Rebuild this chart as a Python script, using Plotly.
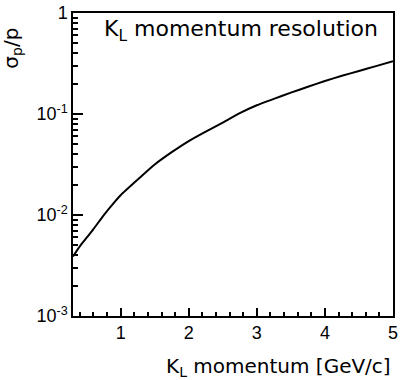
import plotly.graph_objects as go

momentum = [0.3, 0.4, 0.5, 0.6, 0.75, 0.9, 1.0, 1.25, 1.5, 1.75, 2.0, 2.25, 2.5,
            2.75, 3.0, 3.25, 3.5, 3.75, 4.0, 4.25, 4.5, 4.75, 5.0]
resolution = [0.00389, 0.0049, 0.00596, 0.00724, 0.00993, 0.0132, 0.0157, 0.0224,
              0.0316, 0.0419, 0.054, 0.067, 0.0822, 0.102, 0.122, 0.141, 0.1626,
              0.186, 0.212, 0.239, 0.267, 0.298, 0.333]

y_tickvals = [0.001, 0.01, 0.1, 1]
y_ticktext = ["10<sup>-3</sup>", "10<sup>-2</sup>", "10<sup>-1</sup>", "1"]
x_tickvals = [1, 2, 3, 4, 5]

X_RANGE = [0.3, 5.0]
FONT = "DejaVu Sans, Liberation Sans, Arial, sans-serif"
TICKFONT = "Liberation Sans"

fig = go.Figure()
fig.add_trace(go.Scatter(
    x=momentum, y=resolution, mode="lines",
    line=dict(color="black", width=2, shape="spline", smoothing=0.6),
    showlegend=False, hoverinfo="skip",
))

fig.update_layout(
    width=401, height=380,
    margin=dict(l=73, r=3, t=9, b=64),
    paper_bgcolor="white", plot_bgcolor="white",
    font=dict(family=FONT, size=16, color="black"),
)
fig.update_xaxes(
    range=X_RANGE, tickmode="array", tickvals=x_tickvals,
    ticktext=[str(v) for v in x_tickvals],
    ticks="inside", ticklen=8, tickwidth=1.5, tickcolor="black",
    minor=dict(ticks="inside", ticklen=4, tickmode="linear", tick0=0, dtick=0.2,
               tickcolor="black", tickwidth=1.5),
    showline=True, linecolor="black", linewidth=1.5, mirror=True,
    showgrid=False, zeroline=False, ticklabeloverflow="allow",
    tickfont=dict(size=18, family=TICKFONT),
)
fig.update_yaxes(
    type="log", range=[-3, 0], tickmode="array", tickvals=y_tickvals, ticktext=y_ticktext,
    ticks="inside", ticklen=10, tickwidth=1.5, tickcolor="black",
    minor=dict(ticks="inside", ticklen=5, dtick="D1", tickcolor="black", tickwidth=1.5),
    showline=True, linecolor="black", linewidth=1.5, mirror=True,
    showgrid=False, zeroline=False, ticklabeloverflow="allow",
    tickfont=dict(size=18, family=TICKFONT),
)

fig.add_annotation(
    text="K<sub>L</sub> momentum resolution", xref="paper", yref="paper",
    x=0.09, y=0.998, xanchor="left", yanchor="top", showarrow=False,
    font=dict(size=22),
)
fig.add_annotation(
    text="σ<sub>p</sub>/p", xref="paper", yref="paper",
    x=-0.19, y=0.883, xanchor="center", yanchor="middle", textangle=-90,
    showarrow=False, font=dict(size=20),
)
fig.add_annotation(
    text="K<sub>L</sub> momentum [GeV/c]", xref="paper", yref="paper",
    x=1.0, y=-0.169, xanchor="right", yanchor="middle", showarrow=False,
    font=dict(size=20),
)

fig.write_html("out.html")
